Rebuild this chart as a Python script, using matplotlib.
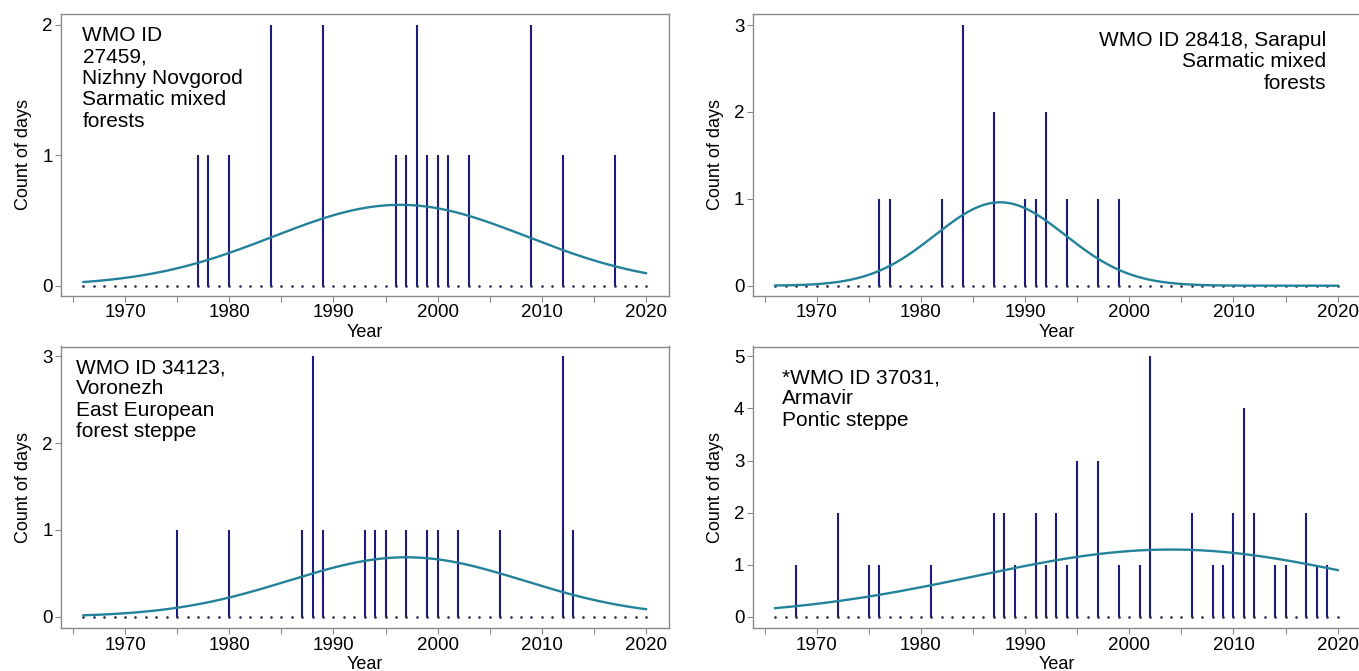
import numpy as np
from matplotlib import pyplot as plt

plt.rcParams['font.family'] = ['Liberation Sans', 'DejaVu Sans']

# counts of days per year
years_nn = [1977, 1978, 1980, 1984, 1989, 1996, 1997, 1998, 1999, 2000, 2001, 2003, 2009, 2012, 2017]
days_nn = [1, 1, 1, 2, 2, 1, 1, 2, 1, 1, 1, 1, 2, 1, 1]

years_sar = [1976, 1977, 1982, 1984, 1987, 1990, 1991, 1992, 1994, 1997, 1999]
days_sar = [1, 1, 1, 3, 2, 1, 1, 2, 1, 1, 1]

years_vor = [1975, 1980, 1987, 1988, 1989, 1993, 1994, 1995, 1997, 1999, 2000, 2002, 2006, 2012, 2013]
days_vor = [1, 1, 1, 3, 1, 1, 1, 1, 1, 1, 1, 1, 1, 3, 1]

years_arm = [1968, 1972, 1975, 1976, 1981, 1987, 1988, 1989, 1991, 1992, 1993, 1994, 1995, 1997,
             1999, 2001, 2002, 2006, 2008, 2009, 2010, 2011, 2012, 2014, 2015, 2017, 2018, 2019]
days_arm = [1, 2, 1, 1, 1, 2, 2, 1, 2, 1, 2, 1, 3, 3, 1, 1, 5, 2, 1, 1, 2, 4, 2, 1, 1, 2, 1, 1]

# fitted normal curve: (centre, sd, peak height)
curve_nn = (1996.4, 12.2, 0.62)
curve_sar = (1987.6, 6.25, 0.96)
curve_vor = (1997.0, 11.3, 0.685)
curve_arm = (2004.0, 18.7, 1.29)

labels = [
    'WMO ID\n27459,\nNizhny Novgorod\nSarmatic mixed\nforests',
    'WMO ID 28418, Sarapul\nSarmatic mixed\nforests',
    'WMO ID 34123,\nVoronezh\nEast European\nforest steppe',
    '*WMO ID 37031,\nArmavir\nPontic steppe',
]

all_years = np.arange(1966, 2021)

W, H = 1359, 671
fig = plt.figure(figsize=(W / 100, H / 100), dpi=100)

bar_color = '#1c1c80'
curve_color = '#23829a'
frame_color = '#8a8a8a'


def px_axes(left, top, right, bottom):
    return fig.add_axes([left / W, 1 - bottom / H, (right - left) / W, (bottom - top) / H])


panels = [
    # frame box in pixels, ylim, y ticks, data, curve, text pos, alignment
    ((61, 14, 669.3, 295.7), (-0.077, 2.084), [0, 1, 2], years_nn, days_nn, curve_nn, (82.5, 26), 'left'),
    ((752.7, 14, 1361, 295.7), (-0.115, 3.127), [0, 1, 2, 3], years_sar, days_sar, curve_sar, (1326, 31), 'right'),
    ((61, 346.5, 669.3, 628.3), (-0.134, 3.115), [0, 1, 2, 3], years_vor, days_vor, curve_vor, (76, 358), 'left'),
    ((752.7, 346.5, 1361, 628.3), (-0.223, 5.19), [0, 1, 2, 3, 4, 5], years_arm, days_arm, curve_arm, (782, 368), 'left'),
]

for i, (box, ylim, yticks, yrs, days, curve, tpos, ha) in enumerate(panels):
    ax = px_axes(*box)
    ax.vlines(yrs, 0, days, color=bar_color, linewidth=1.5)
    ax.plot(all_years, np.zeros(len(all_years)), linestyle='none', marker='.',
            markersize=1.8, color='#2a2a50')
    mu, sd, peak = curve
    xs = np.linspace(1966, 2020, 400)
    ax.plot(xs, peak * np.exp(-0.5 * ((xs - mu) / sd) ** 2), color=curve_color, linewidth=1.7)

    ax.set_xlim(1963.85, 2022.24)
    ax.set_ylim(*ylim)
    ax.set_xticks(range(1970, 2021, 10))
    ax.set_xticks(range(1965, 2020, 10), minor=True)
    ax.set_yticks(yticks)
    for s in ax.spines.values():
        s.set_color(frame_color)
        s.set_linewidth(1)
    ax.tick_params(which='both', direction='out', length=4, width=0.8, color=frame_color,
                   labelsize=13.5, pad=2)
    ax.set_xlabel('Year', fontsize=13, labelpad=2)
    ax.set_ylabel('Count of days', fontsize=13, labelpad=7)

    fig.text(tpos[0] / W, 1 - tpos[1] / H, labels[i], ha=ha, va='top',
             multialignment=ha, fontsize=15, linespacing=1.16)

plt.savefig('out.png', dpi=100)
